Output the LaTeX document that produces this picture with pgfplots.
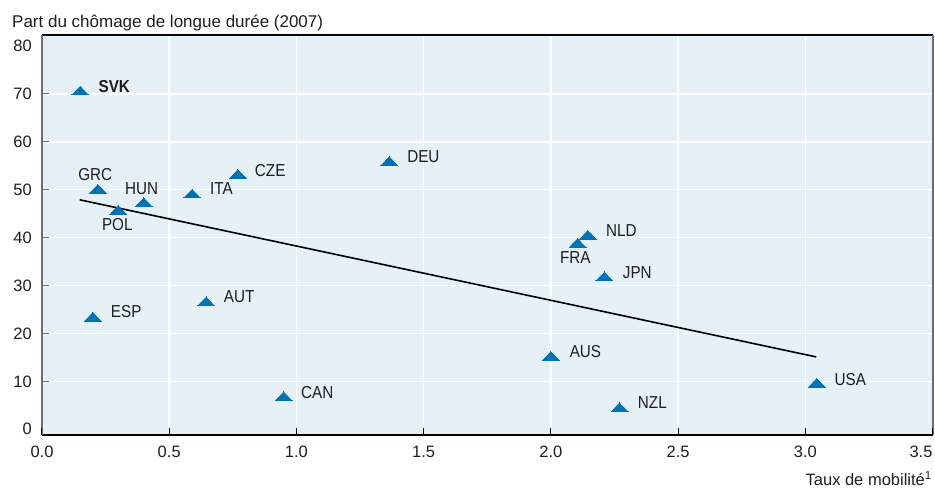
\documentclass[border=0pt]{standalone}
\usepackage{fontspec}
\setmainfont{Liberation Sans}
\newfontfamily\condfont{Liberation Sans}[FakeStretch=0.88]
\usepackage{pgfplots}
\pgfplotsset{compat=1.18}
\definecolor{markblue}{RGB}{0,114,182}
\definecolor{bgblue}{RGB}{229,240,247}
\definecolor{axgray}{RGB}{110,110,110}
\definecolor{txt}{RGB}{30,30,30}
\newcommand\lbl{\fontsize{16.5}{19}\selectfont}
\newcommand\clbl{\condfont\fontsize{17.3}{20}\selectfont}
\begin{document}
\begin{tikzpicture}
\useasboundingbox (-42pt,-54pt) rectangle (893pt,435pt);
\begin{axis}[
  at={(0,0)}, anchor=south west,
  scale only axis, width=891pt, height=400pt,
  xmin=0, xmax=3.502, ymin=-1.2, ymax=82.3,
  axis background/.style={fill=bgblue},
  separate axis lines,
  x axis line style={black, line width=1.3pt},
  y axis line style={axgray, line width=1.6pt},
  xtick={0.5,1.0,...,3.0},
  extra x ticks={0,3.5},
  extra x tick labels={0.0,\makebox[0pt][r]{3.5}},
  extra x tick style={grid=none},
  ytick={10,20,...,70},
  extra y ticks={0,80},
  extra y tick style={grid=none, major tick length=0pt},
  xtick pos=left, ytick pos=left,
  tick align=inside, major tick length=7pt,
  x tick style={black, line width=1pt},
  y tick style={axgray, line width=1pt},
  grid=major,
  major grid style={white, line width=1.5pt},
  /pgf/number format/assume math mode=true,
  x tick label style={font=\lbl, text=txt, inner sep=0pt, anchor=north, yshift=-11pt,
     /pgf/number format/.cd, fixed, fixed zerofill, precision=1},
  y tick label style={font=\lbl, text=txt, inner sep=0pt, anchor=east, xshift=-10pt},
  scaled ticks=false,
  clip=false,
]
\addplot[markblue, only marks, mark=triangle*, mark size=9.8pt,
  mark options={fill=markblue, draw=markblue, line width=0pt, yscale=0.6}] table {
x y
0.150 70.4
0.220 49.9
0.400 47.1
0.300 45.5
0.590 48.9
0.770 53.0
0.200 23.2
0.645 26.4
0.950 6.6
1.365 55.7
2.145 40.3
2.105 38.6
2.210 31.6
2.000 15.0
2.270 4.3
3.045 9.4
};
\addplot[black, line width=1.6pt] coordinates {(0.148,47.9) (3.043,15.1)};
\tikzset{every node/.append style={font=\clbl, text=txt, inner sep=0pt}}
\node at (axis cs:0.284,71.5) {\textbf{SVK}};
\node at (axis cs:0.209,53.2) {GRC};
\node at (axis cs:0.392,50.2) {HUN};
\node at (axis cs:0.705,50.3) {ITA};
\node at (axis cs:0.897,54.1) {CZE};
\node at (axis cs:0.296,42.8) {POL};
\node at (axis cs:0.331,24.5) {ESP};
\node at (axis cs:0.775,27.6) {AUT};
\node at (axis cs:1.082,7.6) {CAN};
\node at (axis cs:1.499,56.9) {DEU};
\node at (axis cs:2.277,41.5) {NLD};
\node at (axis cs:2.096,35.9) {FRA};
\node at (axis cs:2.340,32.6) {JPN};
\node at (axis cs:2.136,16.2) {AUS};
\node at (axis cs:2.399,5.5) {NZL};
\node at (axis cs:3.177,10.4) {USA};
\end{axis}
\node[anchor=base west, inner sep=0pt, text=txt, font=\fontsize{17}{20}\selectfont] at (-30pt,407.7pt) {Part du chômage de longue durée (2007)};
\node[anchor=base east, inner sep=0pt, text=txt, font=\lbl] at (890pt,-51pt) {Taux de mobilité\textsuperscript{1}};
\end{tikzpicture}
\end{document}
